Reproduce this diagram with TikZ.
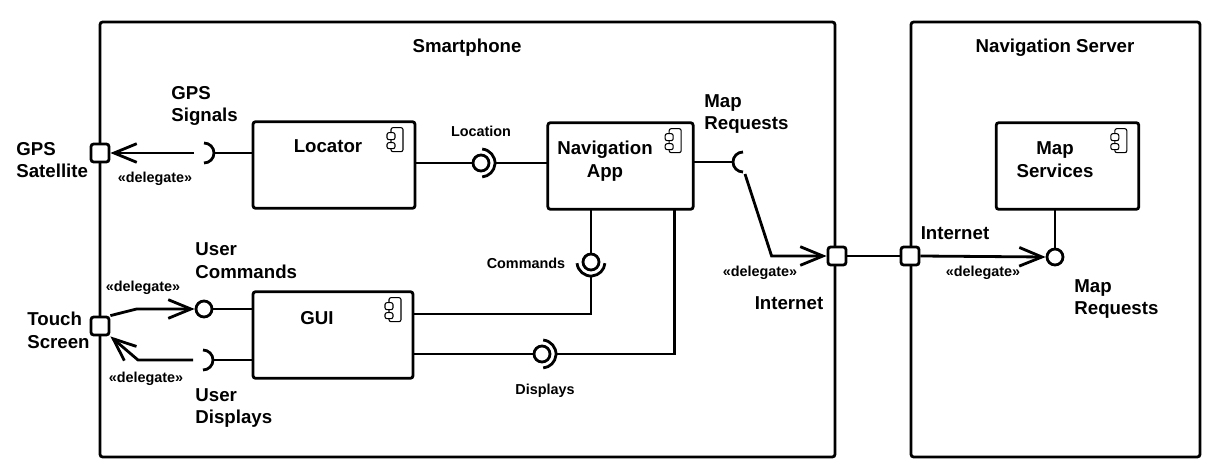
\documentclass[tikz,border=0pt]{standalone}
\usepackage{fontspec}
\setmainfont{Liberation Sans}
\usetikzlibrary{arrows.meta}
\usetikzlibrary{calc}

\begin{document}
\begin{tikzpicture}[x=0.75pt, y=-0.75pt, line width=2.1pt,
  big/.style={font=\fontsize{14}{17}\selectfont\bfseries, inner sep=0pt, align=left},
  small/.style={font=\fontsize{10.8}{13}\selectfont\bfseries, inner sep=0pt},
  comp/.style={draw, rounded corners=2pt, inner sep=0pt, outer sep=0pt,
    minimum width=#1, minimum height=65pt,
    path picture={
      \draw[line width=0.8pt, rounded corners=1.5pt] ($(path picture bounding box.north east)+(-24,6)$) rectangle ++(12,24);
      \draw[line width=0.8pt, rounded corners=1.5pt, fill=white] ($(path picture bounding box.north east)+(-28,11)$) rectangle ++(8,7)
        ($(path picture bounding box.north east)+(-28,21)$) rectangle ++(8,6);
    }},
  port/.style={draw, fill=white, rounded corners=2pt, minimum size=13.5pt, inner sep=0pt},
  ball/.style={draw, circle, fill=white, minimum size=12pt, inner sep=0pt},
  sock/.style={circle, minimum size=#1, inner sep=0pt, outer sep=0pt},
  deleg/.style={-{Straight Barb[length=17pt, width=14pt]}}]
\useasboundingbox (0,0) rectangle (1225,471);

% frames
\draw[rounded corners=2pt] (100,22) rectangle (835,457);
\draw[rounded corners=2pt] (911,22) rectangle (1200,457);
\node[big] (phoneT) at (467,48) {Smartphone};
\node[big] (serverT) at (1055,48) {Navigation Server};

% components
\node[comp=121.5pt] (locator) at (334,165) {};
\node[comp=109pt] (navapp) at (620.5,166) {};
\node[comp=120pt] (gui) at (333,335) {};
\node[comp=107pt] (mapsrv) at (1067.5,166) {};
\node[big] (locatorT) at (328,146) {Locator};
\node[big, align=center] (navappT) at (605,161) {Navigation\\App};
\node[big] (guiT) at (317,318) {GUI};
\node[big, align=center] (mapsrvT) at (1055,160) {Map\\Services};

% ports
\node[port] (gpsP) at (100,153) {};
\node[port] (touchP) at (100,326) {};
\node[port] (inetP) at (837,256) {};
\node[port] (srvP) at (910,256) {};

% interfaces
\node[ball] (locB) at (481,163) {};
\node[sock=21pt] (locS) at (481,163) {};
\draw (locS.85) arc[start angle=85, end angle=-85, radius=10.5pt];
\node[ball] (cmdB) at (591,262) {};
\node[sock=21pt] (cmdS) at (591,262) {};
\draw (cmdS.185) arc[start angle=185, end angle=355, radius=10.5pt];
\node[ball] (dispB) at (542,354) {};
\node[sock=21pt] (dispS) at (542,354) {};
\draw (dispS.85) arc[start angle=85, end angle=-85, radius=10.5pt];
\node[ball] (ucB) at (204,309) {};
\node[ball] (mrB) at (1055,257) {};
\node[sock=15pt] (gpsS) at (204,153) {};
\draw (gpsS.90) arc[start angle=90, end angle=-90, radius=7.5pt];
\node[sock=15pt] (udS) at (203,360) {};
\draw (udS.90) arc[start angle=90, end angle=-90, radius=7.5pt];
\node[sock=15pt] (mrS) at (743,162) {};
\draw (mrS.90) arc[start angle=90, end angle=270, radius=7.5pt];

% connectors
\draw (locB.west) -- (locB -| locator.east);
\draw (locS.east) -- (locS -| navapp.west);
\draw (cmdB.north) -- (cmdB |- navapp.south);
\draw (cmdS.south) |- ($(gui.east)+(0,-21)$);
\draw (dispB.west) -- ($(gui.east)+(0,19)$);
\draw (dispS.east) -| ($(navapp.south)+(54,0)$);
\draw (mrS.west) -- (mrS -| navapp.east);
\draw[deleg] ($(mrS.south)+(2,2)$) -- ($(inetP.west)+(-55,0)$) -- (inetP.west);
\draw (inetP.east) -- (srvP.west);
\draw[deleg] (srvP.east) -- (mrB.west);
\draw (mrB.north) -- (mrB |- mapsrv.south);
\draw[deleg] (gpsS.west) -- (gpsP.east);
\draw (gpsS.east) -- (gpsS -| locator.west);
\draw[deleg] (touchP.north east) -- ($(ucB.west)+(-58,0)$) -- (ucB.west);
\draw (ucB.east) -- (ucB -| gui.west);
\draw[deleg] (udS.west) -- ($(udS.west)+(-55,0)$) -- (touchP.south east);
\draw (udS.east) -- (udS -| gui.west);

% labels
\node[big, anchor=west] (gpsSigL) at (170,106) {GPS\\Signals};
\node[big, anchor=west] (gpsSatL) at (15,160) {GPS\\Satellite};
\node[small] (gpsDelL) at (155,179) {«delegate»};
\node[small] (locL) at (481,131) {Location};
\node[small] (cmdL) at (526,263) {Commands};
\node[small] (dispL) at (545,391) {Displays};
\node[big, anchor=west] (mrL) at (703,114) {Map\\Requests};
\node[small] (inetDelL) at (760,273) {«delegate»};
\node[big] (inetL) at (789,303) {Internet};
\node[big] (srvInetL) at (955,233) {Internet};
\node[small] (srvDelL) at (983,273) {«delegate»};
\node[big, anchor=west] (srvMrL) at (1073,299) {Map\\Requests};
\node[big, anchor=west] (ucL) at (194,261) {User\\Commands};
\node[small] (ucDelL) at (143,288) {«delegate»};
\node[big, anchor=west] (touchL) at (26,330) {Touch\\Screen};
\node[small] (udDelL) at (146,379) {«delegate»};
\node[big, anchor=west] (udL) at (194,408) {User\\Displays};
\end{tikzpicture}
\end{document}
